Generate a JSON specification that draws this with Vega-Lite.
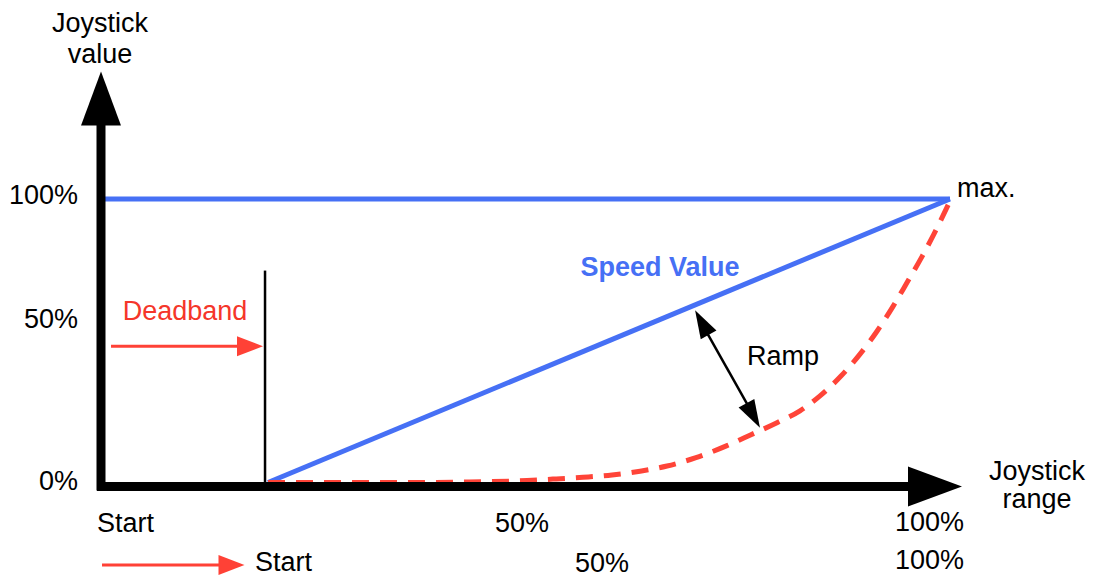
{
  "$schema": "https://vega.github.io/schema/vega-lite/v6.json",
  "width": 1097,
  "height": 578,
  "autosize": {"type": "fit", "contains": "padding"},
  "padding": 0,
  "background": "white",
  "config": {"view": {"stroke": null}},
  "encoding": {
    "x": {"field": "x", "type": "quantitative", "scale": {"domain": [-11.896, 117.314], "nice": false, "zero": false}, "axis": null},
    "y": {"field": "y", "type": "quantitative", "scale": {"domain": [-30.796, 169.204], "nice": false, "zero": false}, "axis": null}
  },
  "layer": [
    {
      "data": {"values": [
        {"x": 0.24, "y": 100, "x2": 100, "y2": 100},
        {"x": 19.67, "y": 1.38, "x2": 100, "y2": 100}
      ]},
      "mark": {"type": "rule", "color": "#4670f5", "strokeWidth": 5, "strokeCap": "butt"},
      "encoding": {"x2": {"field": "x2"}, "y2": {"field": "y2"}}
    },
    {
      "data": {"values": [
        {"x": 19.67, "y": 1.38}, {"x": 23.2, "y": 1.38}, {"x": 36.75, "y": 1.38},
        {"x": 43.23, "y": 1.56}, {"x": 50.18, "y": 2.08}, {"x": 53.47, "y": 2.6},
        {"x": 56.77, "y": 3.2}, {"x": 60.19, "y": 4.0}, {"x": 63.49, "y": 5.3},
        {"x": 66.67, "y": 7.1}, {"x": 70.08, "y": 10.03},
        {"x": 73.73, "y": 14.19}, {"x": 76.56, "y": 17.99}, {"x": 79.62, "y": 22.15},
        {"x": 82.33, "y": 26.3}, {"x": 84.69, "y": 31.49}, {"x": 87.16, "y": 38.41},
        {"x": 89.4, "y": 46.02}, {"x": 91.4, "y": 53.98}, {"x": 93.29, "y": 62.63},
        {"x": 94.94, "y": 70.93}, {"x": 96.7, "y": 79.93}, {"x": 98.12, "y": 87.89},
        {"x": 100, "y": 99.31}
      ]},
      "mark": {"type": "line", "color": "#ff4438", "strokeWidth": 5, "strokeDash": [17, 11], "interpolate": "monotone"},
      "encoding": {}
    },
    {
      "data": {"values": [
        {"x": -0.47, "y": 0, "x2": 95.88, "y2": 0},
        {"x": 0, "y": -1.38, "x2": 0, "y2": 127.7}
      ]},
      "mark": {"type": "rule", "color": "black", "strokeWidth": 9, "strokeCap": "butt"},
      "encoding": {"x2": {"field": "x2"}, "y2": {"field": "y2"}}
    },
    {
      "data": {"values": [
        {"x": 19.32, "y": 0, "x2": 19.32, "y2": 75.09},
        {"x": 70.55, "y": 57.79, "x2": 77.03, "y2": 23.88}
      ]},
      "mark": {"type": "rule", "color": "black", "strokeWidth": 2.5, "strokeCap": "butt"},
      "encoding": {"x2": {"field": "x2"}, "y2": {"field": "y2"}}
    },
    {
      "data": {"values": [
        {"x": 1.18, "y": 48.79, "x2": 16.4, "y2": 48.79},
        {"x": 0.12, "y": -27.34, "x2": 14.1, "y2": -27.34}
      ]},
      "mark": {"type": "rule", "color": "#ff4136", "strokeWidth": 3, "strokeCap": "butt"},
      "encoding": {"x2": {"field": "x2"}, "y2": {"field": "y2"}}
    },
    {
      "data": {"values": [{"x": 0, "y": 134.95}]},
      "mark": {"type": "point", "shape": "M0,-1L0.74,1L-0.74,1Z", "size": 2916, "filled": true, "opacity": 1, "color": "black", "strokeWidth": 0, "angle": 0},
      "encoding": {}
    },
    {
      "data": {"values": [{"x": 98.23, "y": 0}]},
      "mark": {"type": "point", "shape": "M0,-1L0.74,1L-0.74,1Z", "size": 2916, "filled": true, "opacity": 1, "color": "black", "strokeWidth": 0, "angle": 90},
      "encoding": {}
    },
    {
      "data": {"values": [{"x": 17.55, "y": 48.79}, {"x": 15.37, "y": -27.34}]},
      "mark": {"type": "point", "shape": "M0,-1L0.77,1L-0.77,1Z", "size": 676, "filled": true, "opacity": 1, "color": "#ff4136", "strokeWidth": 0, "angle": 90},
      "encoding": {}
    },
    {
      "data": {"values": [{"x": 70.77, "y": 56.99}]},
      "mark": {"type": "point", "shape": "M0,-1L0.64,1L-0.64,1Z", "size": 784, "filled": true, "opacity": 1, "color": "black", "strokeWidth": 0, "angle": 331.15},
      "encoding": {}
    },
    {
      "data": {"values": [{"x": 76.82, "y": 24.67}]},
      "mark": {"type": "point", "shape": "M0,-1L0.64,1L-0.64,1Z", "size": 784, "filled": true, "opacity": 1, "color": "black", "strokeWidth": 0, "angle": 151.15},
      "encoding": {}
    },
    {
      "data": {"values": [
        {"x": -0.12, "y": 158.13, "label": "Joystick"},
        {"x": -0.12, "y": 147.4, "label": "value"},
        {"x": 110.25, "y": 2.08, "label": "Joystick"},
        {"x": 110.25, "y": -7.61, "label": "range"}
      ]},
      "mark": {"type": "text", "font": "Liberation Sans", "fontSize": 27, "color": "black", "align": "center", "baseline": "alphabetic"},
      "encoding": {"text": {"field": "label"}}
    },
    {
      "data": {"values": [
        {"x": -2.71, "y": 98.27, "label": "100%"},
        {"x": -2.71, "y": 55.02, "label": "50%"},
        {"x": -2.71, "y": -1.4, "label": "0%"}
      ]},
      "mark": {"type": "text", "font": "Liberation Sans", "fontSize": 27, "color": "black", "align": "right", "baseline": "alphabetic"},
      "encoding": {"text": {"field": "label"}}
    },
    {
      "data": {"values": [
        {"x": 76.09, "y": 42.21, "label": "Ramp"},
        {"x": 100.82, "y": 100.69, "label": "max."},
        {"x": -0.47, "y": -15.92, "label": "Start"},
        {"x": 46.41, "y": -15.92, "label": "50%"},
        {"x": 93.52, "y": -15.57, "label": "100%"},
        {"x": 18.14, "y": -29.41, "label": "Start"},
        {"x": 55.83, "y": -29.76, "label": "50%"},
        {"x": 93.52, "y": -28.72, "label": "100%"}
      ]},
      "mark": {"type": "text", "font": "Liberation Sans", "fontSize": 27, "color": "black", "align": "left", "baseline": "alphabetic"},
      "encoding": {"text": {"field": "label"}}
    },
    {
      "data": {"values": [{"x": 9.89, "y": 57.79, "label": "Deadband"}]},
      "mark": {"type": "text", "font": "Liberation Sans", "fontSize": 27, "color": "#f5362a", "align": "center", "baseline": "alphabetic"},
      "encoding": {"text": {"field": "label"}}
    },
    {
      "data": {"values": [{"x": 65.84, "y": 73.36, "label": "Speed Value"}]},
      "mark": {"type": "text", "font": "Liberation Sans", "fontSize": 27, "fontWeight": "bold", "color": "#4670f5", "align": "center", "baseline": "alphabetic"},
      "encoding": {"text": {"field": "label"}}
    }
  ]
}
